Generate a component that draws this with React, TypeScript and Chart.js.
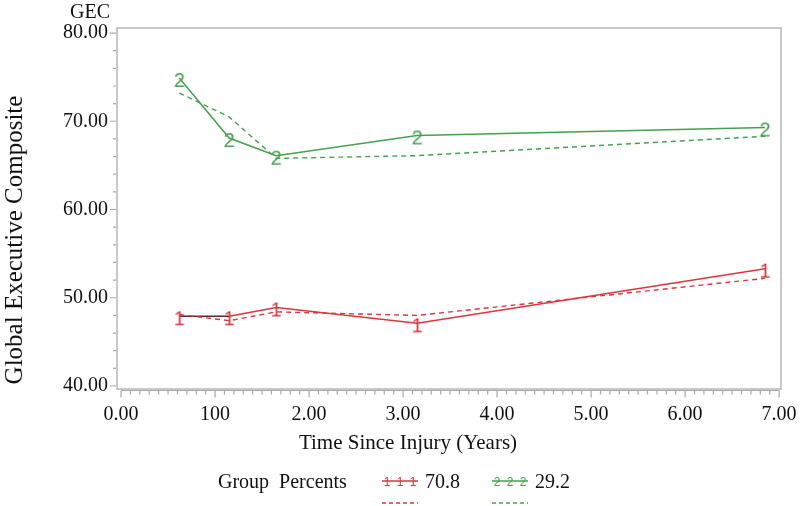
import React, { useEffect, useRef } from 'react';
import { Chart, registerables } from 'chart.js';

Chart.register(...registerables);

const timeYears = [0.62, 1.15, 1.65, 3.15, 6.85];
const group1Observed = [47.9, 47.9, 48.9, 47.1, 53.3];
const group1Predicted = [48.1, 47.4, 48.4, 48.0, 52.2];
const group2Observed = [74.9, 68.1, 66.1, 68.4, 69.3];
const group2Predicted = [73.2, 70.5, 65.8, 66.1, 68.3];

const xTickValues = [0, 1, 2, 3, 4, 5, 6, 7];
const xTickLabels = ['0.00', '100', '2.00', '3.00', '4.00', '5.00', '6.00', '7.00'];
const yTickValues = [40, 50, 60, 70, 80];
const yTickLabels = ['40.00', '50.00', '60.00', '70.00', '80.00'];
const groupPercents = ['70.8', '29.2'];
const groupMarkers = ['1', '2'];

const RED = '#d9363e';
const GREEN = '#45a04f';
const AXIS = '#a8a8a8';
const FONT = '"Liberation Serif", "Times New Roman", serif';

function makeMarker(ch: string, color: string) {
  const c = document.createElement('canvas');
  c.width = 18;
  c.height = 30;
  const ctx = c.getContext('2d')!;
  ctx.font = `20px "Liberation Sans", sans-serif`;
  ctx.fillStyle = color;
  ctx.textAlign = 'center';
  ctx.textBaseline = 'middle';
  ctx.fillText(ch, 9, 18);
  return c;
}

const decorPlugin = {
  id: 'decor',
  afterDraw(chart: any) {
    const { ctx, chartArea, scales } = chart;
    const { left, top, right, bottom } = chartArea;
    const x = scales.x;
    const y = scales.y;
    ctx.save();
    ctx.strokeStyle = '#c8c8c8';
    ctx.lineWidth = 2;
    ctx.strokeRect(left, top, right - left, bottom - top);
    ctx.strokeStyle = AXIS;
    ctx.lineWidth = 1.2;
    const ay = bottom + 1.5;
    const x0 = x.getPixelForValue(xTickValues[0]);
    const x1 = x.getPixelForValue(xTickValues[xTickValues.length - 1]);
    ctx.beginPath();
    ctx.moveTo(x0, ay);
    ctx.lineTo(x1, ay);
    for (let i = 0; i <= 70; i++) {
      const v = i / 10;
      const px = x.getPixelForValue(v);
      const len = i % 10 === 0 ? 7 : 4;
      ctx.moveTo(px, ay);
      ctx.lineTo(px, ay + len);
    }
    for (let v = 40; v <= 80; v += 2) {
      const py = y.getPixelForValue(v);
      const len = v % 10 === 0 ? 6 : 3;
      ctx.moveTo(left - 1, py);
      ctx.lineTo(left - 1 - len, py);
    }
    ctx.stroke();

    ctx.fillStyle = '#111';
    ctx.textBaseline = 'middle';
    ctx.font = `20px ${FONT}`;
    ctx.textAlign = 'center';
    ctx.fillText('GEC', 90, 13);
    ctx.font = `21px ${FONT}`;
    ctx.fillText('Time Since Injury (Years)', 408, 443);
    ctx.save();
    ctx.translate(15, 240);
    ctx.rotate(-Math.PI / 2);
    ctx.font = `25px ${FONT}`;
    ctx.fillText('Global Executive Composite', 0, 0);
    ctx.restore();

    ctx.font = `20px ${FONT}`;
    ctx.textAlign = 'left';
    ctx.fillText('Group  Percents', 218, 483);
    const colors = [RED, GREEN];
    const sx = [382, 492];
    for (let g = 0; g < 2; g++) {
      ctx.strokeStyle = colors[g];
      ctx.lineWidth = 1.3;
      ctx.setLineDash([]);
      ctx.beginPath();
      ctx.moveTo(sx[g], 481);
      ctx.lineTo(sx[g] + 36, 481);
      ctx.stroke();
      ctx.fillStyle = colors[g];
      ctx.font = `12px "Liberation Sans", sans-serif`;
      ctx.textAlign = 'center';
      for (let k = 0; k < 3; k++) ctx.fillText(groupMarkers[g], sx[g] + 5 + k * 13, 483);
      ctx.setLineDash([4, 3]);
      ctx.beginPath();
      ctx.moveTo(sx[g], 503);
      ctx.lineTo(sx[g] + 36, 503);
      ctx.stroke();
      ctx.setLineDash([]);
      ctx.fillStyle = '#111';
      ctx.font = `20px ${FONT}`;
      ctx.textAlign = 'left';
      ctx.fillText(groupPercents[g], sx[g] + 43, 483);
    }
    ctx.restore();
  },
};

export default function App() {
  const ref = useRef<HTMLCanvasElement>(null);
  useEffect(() => {
    const redMarker = makeMarker(groupMarkers[0], RED);
    const greenMarker = makeMarker(groupMarkers[1], GREEN);
    const pts = (vals: number[]) => timeYears.map((t, i) => ({ x: t, y: vals[i] }));
    const chart = new Chart(ref.current!, {
      type: 'line',
      data: {
        datasets: [
          {
            data: pts(group1Predicted),
            borderColor: RED,
            borderWidth: 1.4,
            borderDash: [5, 4],
            pointRadius: 0,
            tension: 0,
          },
          {
            data: pts(group2Predicted),
            borderColor: GREEN,
            borderWidth: 1.4,
            borderDash: [5, 4],
            pointRadius: 0,
            tension: 0,
          },
          {
            data: pts(group1Observed),
            borderColor: RED,
            borderWidth: 1.5,
            pointStyle: redMarker as any,
            pointRadius: 6,
            tension: 0,
            segment: {
              borderColor: (c: any) => (c.p0DataIndex === 0 ? '#5a2a2a' : RED),
            },
          },
          {
            data: pts(group2Observed),
            borderColor: GREEN,
            borderWidth: 1.5,
            pointStyle: greenMarker as any,
            pointRadius: 6,
            tension: 0,
          },
        ],
      },
      options: {
        responsive: false,
        animation: false,
        layout: { padding: { top: 28, right: 19, left: 0, bottom: 0 } },
        plugins: { legend: { display: false }, tooltip: { enabled: false } },
        scales: {
          x: {
            type: 'linear',
            min: -0.043,
            max: 7.02,
            afterBuildTicks: (s: any) => {
              s.ticks = xTickValues.map((v) => ({ value: v }));
            },
            afterFit: (s: any) => {
              s.height = 117;
              s.paddingLeft = 0;
              s.paddingRight = 0;
            },
            grid: { display: false, drawTicks: false },
            border: { display: false },
            ticks: {
              autoSkip: false,
              maxRotation: 0,
              padding: 14,
              color: '#111',
              font: { family: FONT, size: 20 },
              callback: (v: any) => xTickLabels[xTickValues.indexOf(Number(v))] ?? '',
            },
          },
          y: {
            type: 'linear',
            min: 39.66,
            max: 80.57,
            afterBuildTicks: (s: any) => {
              s.ticks = yTickValues.map((v) => ({ value: v }));
            },
            afterFit: (s: any) => {
              s.width = 117;
              s.paddingTop = 0;
              s.paddingBottom = 0;
            },
            grid: { display: false, drawTicks: false },
            border: { display: false },
            ticks: {
              autoSkip: false,
              padding: 9,
              color: '#111',
              font: { family: FONT, size: 20 },
              callback: (v: any) => yTickLabels[yTickValues.indexOf(Number(v))] ?? '',
            },
          },
        },
      },
      plugins: [decorPlugin],
    });
    return () => chart.destroy();
  }, []);
  return (
    <div style={{ position: 'absolute', left: 0, top: 0, width: 800, height: 506, background: '#fff' }}>
      <canvas ref={ref} width={800} height={506} />
    </div>
  );
}
